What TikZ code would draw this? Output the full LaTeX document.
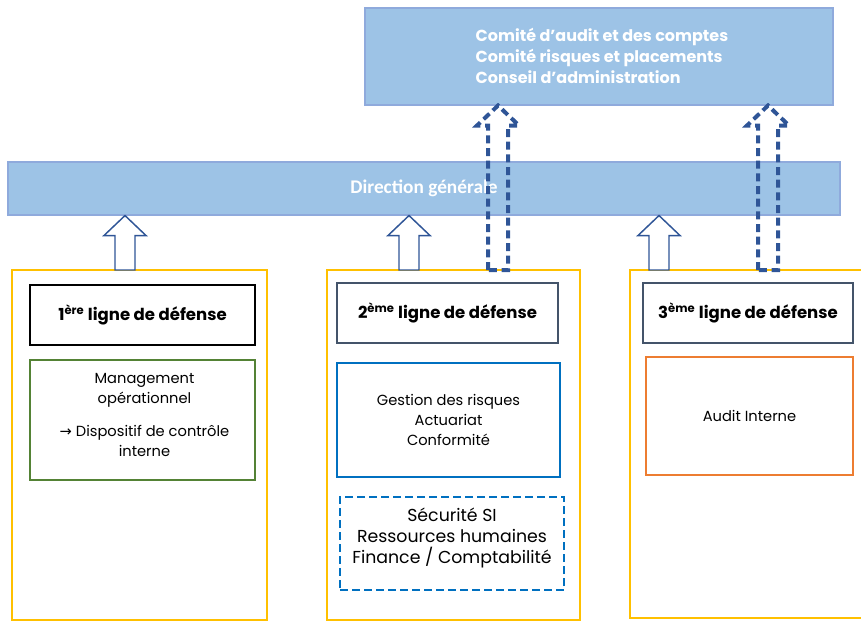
\documentclass[tikz,border=0pt]{standalone}
\usepackage{fontspec}
\setmainfont{Poppins}
\newfontfamily\dgfont{Carlito}
\newfontfamily\symfont{DejaVu Sans}
\usetikzlibrary{calc}
\definecolor{boxblue}{HTML}{9DC3E6}
\definecolor{boxline}{HTML}{8FAADC}
\definecolor{arrowblue}{HTML}{2F5597}
\definecolor{colyellow}{HTML}{FFC000}
\definecolor{slate}{HTML}{44546A}
\definecolor{okgreen}{HTML}{548235}
\definecolor{bluebox}{HTML}{0070C0}
\definecolor{orangebox}{HTML}{ED7D31}
\def\blockarrow[#1](#2)(#3){\draw[#1] ($(#2)+(-10,0)$) -- ($(#2|-#3)+(-10,20)$) -- ($(#2|-#3)+(-21,20)$) -- (#2|-#3) -- ($(#2|-#3)+(21,20)$) -- ($(#2|-#3)+(10,20)$) -- ($(#2)+(10,0)$) -- cycle;}
\tikzset{
  bluebar/.style={draw=boxline, fill=boxblue, line width=0.8pt, text=white, inner sep=0pt},
  colbox/.style={draw=colyellow, line width=1.6pt, inner sep=0pt},
  headbox/.style={draw=#1, line width=1.6pt, inner sep=0pt, font=\fontsize{12.4}{14}\selectfont\bfseries},
  contbox/.style={draw=#1, line width=1.6pt, inner sep=0pt},
  txt/.style={align=center, font=\fontsize{11}{15}\selectfont, inner sep=0pt},
  solidarrow/.style={draw=arrowblue, fill=white, line width=1.1pt},
  dasharrow/.style={draw=arrowblue, line width=3pt, dash pattern=on 6pt off 3.5pt},
}
\begin{document}
\begin{tikzpicture}[x=0.75pt, y=-0.75pt]
			%%%%% START %%%%%
			\useasboundingbox (0,0) rectangle (861,622);
			
			\node[bluebar, minimum width=351pt, minimum height=72.75pt] (board) at (599, 56.5) {};
			\node[text=white, align=left, font=\fontsize{12}{15.5}\selectfont\bfseries, inner sep=0pt] (boardtxt) at (602, 56) {Comité d’audit et des comptes\\Comité risques et placements\\Conseil d’administration};
			
			\node[bluebar, minimum width=624pt, minimum height=39.75pt, font=\dgfont\fontsize{14.5}{17}\selectfont\bfseries] (dg) at (424, 188.5) {Direction générale};
			
			\node[colbox, minimum width=191.25pt, minimum height=262.5pt] (col1) at (139.5, 445) {};
			\node[colbox, minimum width=189.75pt, minimum height=262.5pt] (col2) at (453.5, 445) {};
			\node[colbox, minimum width=177pt, minimum height=261pt] (col3) at (748, 444) {};
			
			\node[headbox=black, minimum width=168.75pt, minimum height=45pt] (head1) at (142.5, 315) {1\textsuperscript{ère} ligne de défense};
			\node[headbox=slate, minimum width=165.75pt, minimum height=45pt] (head2) at (447.5, 313) {2\textsuperscript{ème} ligne de défense};
			\node[headbox=slate, minimum width=157.5pt, minimum height=45pt] (head3) at (748, 313) {3\textsuperscript{ème} ligne de défense};
			
			\node[contbox=okgreen, minimum width=168.75pt, minimum height=90pt] (mgmt) at (142.5, 420) {};
			\node[txt] (mgmttxt) at (144.5, 415) {Management\\opérationnel\\[10pt]{\symfont\fontsize{11}{15}\selectfont →} Dispositif de contrôle\\interne};
			
			\node[contbox=bluebox, minimum width=167.25pt, minimum height=85.5pt, txt] (risk) at (448.5, 420) {Gestion des risques\\Actuariat\\Conformité};
			\node[contbox=bluebox, line width=2.2pt, dash pattern=on 6pt off 3pt, minimum width=168pt, minimum height=69.75pt] (support) at (452, 543.5) {};
			\node[txt, font=\fontsize{13}{15.5}\selectfont] (supporttxt) at (452, 538) {Sécurité SI\\Ressources humaines\\Finance / Comptabilité};
			
			\node[contbox=orangebox, minimum width=155.25pt, minimum height=88.5pt, txt] (audit) at (749.5, 416) {Audit Interne};
			
			%% arrows
			\coordinate (a1) at (125, 270);
			\coordinate (a2) at (409, 270);
			\coordinate (a3) at (659, 270);
			\coordinate (d2) at (498, 270);
			\coordinate (d3) at (768, 270);
			\blockarrow[solidarrow](a1)(dg.south)
			\blockarrow[solidarrow](a2)(dg.south)
			\blockarrow[solidarrow](a3)(dg.south)
			\blockarrow[dasharrow](d2)(board.south)
			\blockarrow[dasharrow](d3)(board.south)
			%%%%% END %%%%%
\end{tikzpicture}
\end{document}
